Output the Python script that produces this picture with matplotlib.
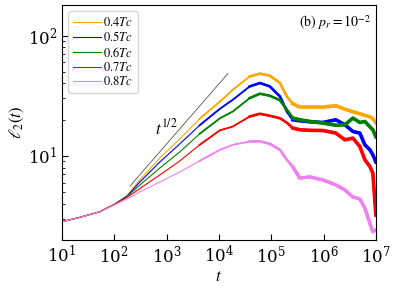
import matplotlib
matplotlib.use('Agg')
import matplotlib.pyplot as plt
from matplotlib.ticker import LogLocator
import numpy as np

plt.rcParams['font.family'] = 'serif'
plt.rcParams['font.serif'] = ['DejaVu Serif']
plt.rcParams['mathtext.fontset'] = 'stix'

# time points (shared by all curves)
T = [10, 22, 53, 100, 175, 310, 750, 1800, 4300, 10450, 18500, 39000, 61000,
     94000, 147000, 200000, 259000, 353000, 548000, 970000, 1.72e6,
     2.56e6, 3.64e6, 4.95e6, 6.17e6, 7.69e6, 8.77e6, 1e7]

L_04 = [2.83, 3.08, 3.43, 3.94, 4.64, 6.31, 9.62, 13.86, 20.34, 28.2, 35.48, 45.8, 48.25,
        46.42, 40.35, 31.02, 27.13, 25.46, 25.46, 25.46, 26.1,
        24.41, 23.26, 22.39, 21.76, 21.13, 20.34, 18.84]
L_05 = [2.83, 3.08, 3.43, 3.94, 4.62, 6.06, 8.91, 12.59, 17.96, 24.6, 29.29, 37.8, 40.35,
        37.8, 31.2, 23.39, 19.95, 19.57, 19.2, 18.95, 19.95,
        18.13, 15.94, 15.46, 12.35, 11.22, 10.19, 8.91]
L_06 = [2.83, 3.08, 3.43, 3.94, 4.58, 5.73, 7.94, 10.8, 15.26, 20.5, 23.39, 30.26, 32.86,
        31.62, 29.0, 24.17, 20.61, 19.95, 19.32, 18.73, 17.96,
        18.13, 20.61, 18.95, 19.32, 17.45, 16.47, 14.4]
L_07 = [2.83, 3.08, 3.43, 3.94, 4.51, 5.35, 6.95, 9.08, 12.35, 16.3, 17.55, 21.26, 22.39,
        21.54, 20.54, 18.84, 17.02, 16.47, 16.31, 16.25, 15.46,
        13.59, 14.05, 11.95, 9.26, 8.15, 7.17, 3.22]
L_08 = [2.83, 3.08, 3.43, 3.90, 4.38, 5.01, 6.07, 7.36, 9.08, 11.22, 12.35, 13.16, 13.21,
        12.59, 11.22, 9.26, 8.1, 6.52, 6.68, 6.31, 5.73,
        5.21, 4.55, 4.38, 3.67, 2.75, 2.34, 2.42]

LABELS = ['0.4$Tc$', '0.5$Tc$', '0.6$Tc$', '0.7$Tc$', '0.8$Tc$']
COLORS = ['orange', 'blue', 'green', 'red', 'violet']
Y_TICKS = [10, 100]

# t^{1/2} guide line end points
GUIDE_T = [200, 15000]
GUIDE_V = [5.6, 48.5]

fig = plt.figure(figsize=(3.99, 2.88), dpi=100)
ax = fig.add_axes([0.155, 0.167, 0.787, 0.816])

t = np.array(T)
# curves get visibly noisier (thicker) at late times
widths = [(4000, 1.3), (35000, 1.9), (250000, 2.6)]
for vals, lab, col in zip([L_04, L_05, L_06, L_07, L_08], LABELS, COLORS):
    v = np.array(vals)
    ax.plot(t, v, color=col, lw=0.8, label=lab)
    for tmin, lw in widths:
        m = t >= tmin
        ax.plot(t[m], v[m], color=col, lw=lw)

ax.plot(GUIDE_T, GUIDE_V, color='k', lw=0.5, alpha=0.8)
ax.text(1000, 17, r'$t^{1/2}$', fontsize=12, ha='center', va='center',
        family='STIXGeneral')

ax.text(0.985, 0.965, r'(b) $p_r=10^{-2}$', transform=ax.transAxes,
        ha='right', va='top', fontsize=10, family='STIXGeneral')

ax.set_xscale('log')
ax.set_yscale('log')
ax.set_xlim(10, 1e7)
ax.set_ylim(2.0, 180)
ax.xaxis.set_major_locator(LogLocator(base=10, numticks=12))
ax.set_yticks(Y_TICKS)
ax.tick_params(which='both', direction='in', top=False, right=False,
               labelsize=12)
ax.tick_params(which='major', length=4)
ax.tick_params(which='minor', length=2)
ax.set_xlabel(r'$t$', fontsize=12, labelpad=1)
ax.set_ylabel(r'$\ell_2(t)$', fontsize=12, labelpad=1)

ax.legend(loc='upper left', handlelength=2.2, labelspacing=0.1,
          borderpad=0.4, handletextpad=0.2, prop={'family': 'STIXGeneral', 'size': 9})

fig.savefig('out.png', dpi=100)
